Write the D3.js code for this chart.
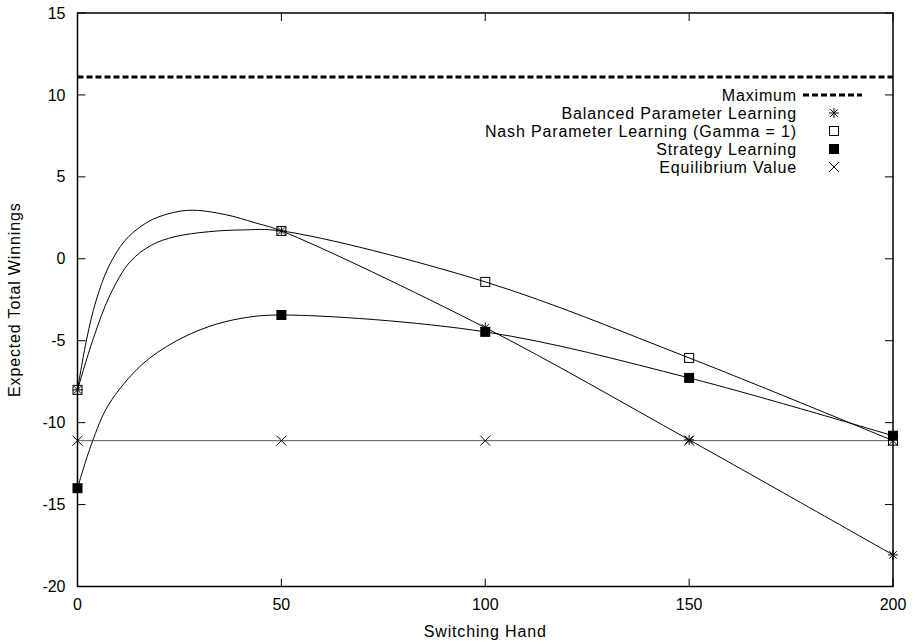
<!DOCTYPE html>
<html>
<head>
<meta charset="utf-8">
<script src="https://cdn.jsdelivr.net/npm/d3@7"></script>
<style>
  body { margin: 0; background: #fff; }
  svg text { font-family: "Liberation Sans", Arial, sans-serif; font-size: 16px; fill: #000; }
  svg text.wide { letter-spacing: 0.85px; }
</style>
</head>
<body>
<div id="chart"></div>
<script>
// marker positions
const hands = [0, 50, 100, 150, 200];
const balanced = [-8, 1.7, -4.2, -11.05, -18.07];
const nash = [-8, 1.7, -1.41, -6.05, -11.1];
const strategy = [-14, -3.43, -4.46, -7.27, -10.8];
const equilibrium = [-11.1, -11.1, -11.1, -11.1, -11.1];
const maximum = 11.1;

// curve samples (denser between 0 and 50)
const balancedCurveX = [0, 2.25, 4.5, 7.6, 11.6, 15.7, 19.8, 27.2, 36.2, 43.5, 50, 100, 150, 200];
const balancedCurveY = [-8, -4.9, -2.6, -0.5, 1.1, 2.0, 2.55, 2.96, 2.7, 2.2, 1.7, -4.2, -11.05, -18.07];
const nashCurveX = [0, 3.9, 8, 12.9, 18.2, 23.9, 32.1, 40.3, 50, 100, 150, 200];
const nashCurveY = [-8, -4.85, -2.2, -0.18, 0.84, 1.35, 1.65, 1.76, 1.7, -1.41, -6.05, -11.1];
const strategyCurveX = [0, 3.5, 7.6, 15.7, 23.9, 32.2, 40.3, 50, 100, 150, 200];
const strategyCurveY = [-14, -11.26, -8.92, -6.48, -5.06, -4.14, -3.63, -3.43, -4.46, -7.27, -10.8];

const legendLabels = [
  "Maximum",
  "Balanced Parameter Learning",
  "Nash Parameter Learning (Gamma = 1)",
  "Strategy Learning",
  "Equilibrium Value",
];
const xTicks = [0, 50, 100, 150, 200];
const yTicks = [-20, -15, -10, -5, 0, 5, 10, 15];

const width = 915, height = 644;
const margin = { top: 13, right: 22, bottom: 57.5, left: 77.5 };

const svg = d3.select("#chart").append("svg")
  .attr("width", width)
  .attr("height", height);

const x = d3.scaleLinear().domain([0, 200]).range([margin.left, width - margin.right]);
const y = d3.scaleLinear().domain([-20, 15]).range([height - margin.bottom, margin.top]);

// ticks (gnuplot style, inward and mirrored)
const tickLen = 8;
const axes = svg.append("g").attr("stroke", "#000").attr("stroke-width", 1);
yTicks.forEach(t => {
  axes.append("line").attr("x1", x(0)).attr("x2", x(0) + tickLen).attr("y1", y(t)).attr("y2", y(t));
  axes.append("line").attr("x1", x(200)).attr("x2", x(200) - tickLen).attr("y1", y(t)).attr("y2", y(t));
});
xTicks.forEach(t => {
  axes.append("line").attr("x1", x(t)).attr("x2", x(t)).attr("y1", y(-20)).attr("y2", y(-20) - tickLen);
  axes.append("line").attr("x1", x(t)).attr("x2", x(t)).attr("y1", y(15)).attr("y2", y(15) + tickLen);
});

svg.selectAll(".ylab").data(yTicks).enter().append("text")
  .attr("x", x(0) - 12)
  .attr("y", d => y(d))
  .attr("dy", "0.35em")
  .attr("text-anchor", "end")
  .text(d => d);

svg.selectAll(".xlab").data(xTicks).enter().append("text")
  .attr("x", d => x(d))
  .attr("y", y(-20) + 23)
  .attr("text-anchor", "middle")
  .text(d => d);

svg.append("text")
  .attr("class", "wide")
  .attr("x", (x(0) + x(200)) / 2)
  .attr("y", 637)
  .attr("text-anchor", "middle")
  .text("Switching Hand");

svg.append("text")
  .attr("class", "wide")
  .attr("transform", `translate(20, ${(y(15) + y(-20)) / 2}) rotate(-90)`)
  .attr("text-anchor", "middle")
  .text("Expected Total Winnings");

// maximum
svg.append("line")
  .attr("x1", x(0)).attr("x2", x(200))
  .attr("y1", y(maximum)).attr("y2", y(maximum))
  .attr("stroke", "#000").attr("stroke-width", 3)
  .attr("stroke-dasharray", "6,3");

const line = d3.line()
  .x(d => x(d[0]))
  .y(d => y(d[1]))
  .curve(d3.curveCatmullRom.alpha(0.5));

const curves = svg.append("g").attr("fill", "none").attr("stroke", "#000").attr("stroke-width", 1);
[
  [balancedCurveX, balancedCurveY],
  [nashCurveX, nashCurveY],
  [strategyCurveX, strategyCurveY],
].forEach(([xs, ys]) => curves.append("path").attr("d", line(d3.zip(xs, ys))));
curves.append("path")
  .attr("d", line.curve(d3.curveLinear)(d3.zip(hands, equilibrium)))
  .attr("stroke", "#555");

// markers
function star(g, cx, cy) {
  const r = 5;
  g.append("path")
    .attr("d", `M${cx - r},${cy}H${cx + r}M${cx},${cy - r}V${cy + r}M${cx - r * 0.75},${cy - r * 0.75}L${cx + r * 0.75},${cy + r * 0.75}M${cx - r * 0.75},${cy + r * 0.75}L${cx + r * 0.75},${cy - r * 0.75}`)
    .attr("stroke", "#000").attr("fill", "none");
}
function openSquare(g, cx, cy) {
  g.append("rect").attr("x", cx - 4.5).attr("y", cy - 4.5).attr("width", 9).attr("height", 9)
    .attr("fill", "none").attr("stroke", "#000");
}
function filledSquare(g, cx, cy) {
  g.append("rect").attr("x", cx - 5).attr("y", cy - 5).attr("width", 10).attr("height", 10)
    .attr("fill", "#000");
}
function cross(g, cx, cy) {
  const r = 5;
  g.append("path")
    .attr("d", `M${cx - r},${cy - r}L${cx + r},${cy + r}M${cx - r},${cy + r}L${cx + r},${cy - r}`)
    .attr("stroke", "#000").attr("fill", "none");
}

const marks = svg.append("g");
balanced.forEach((v, i) => star(marks, x(hands[i]), y(v)));
nash.forEach((v, i) => openSquare(marks, x(hands[i]), y(v)));
strategy.forEach((v, i) => filledSquare(marks, x(hands[i]), y(v)));
equilibrium.forEach((v, i) => cross(marks, x(hands[i]), y(v)));

// legend
const legend = svg.append("g");
const lx = 797, ly = 95, step = 18, sx = 834;
legendLabels.forEach((lab, i) => {
  legend.append("text")
    .attr("class", "wide")
    .attr("x", lx).attr("y", ly + i * step)
    .attr("dy", "0.35em")
    .attr("text-anchor", "end")
    .text(lab);
});
legend.append("line")
  .attr("x1", 803).attr("x2", 862)
  .attr("y1", ly).attr("y2", ly)
  .attr("stroke", "#000").attr("stroke-width", 3)
  .attr("stroke-dasharray", "6,3");
star(legend, sx, ly + step);
openSquare(legend, sx, ly + 2 * step);
filledSquare(legend, sx, ly + 3 * step);
cross(legend, sx, ly + 4 * step);

// border
svg.append("rect")
  .attr("x", x(0)).attr("y", y(15))
  .attr("width", x(200) - x(0)).attr("height", y(-20) - y(15))
  .attr("fill", "none").attr("stroke", "#000").attr("stroke-width", 1.5);
</script>
</body>
</html>
